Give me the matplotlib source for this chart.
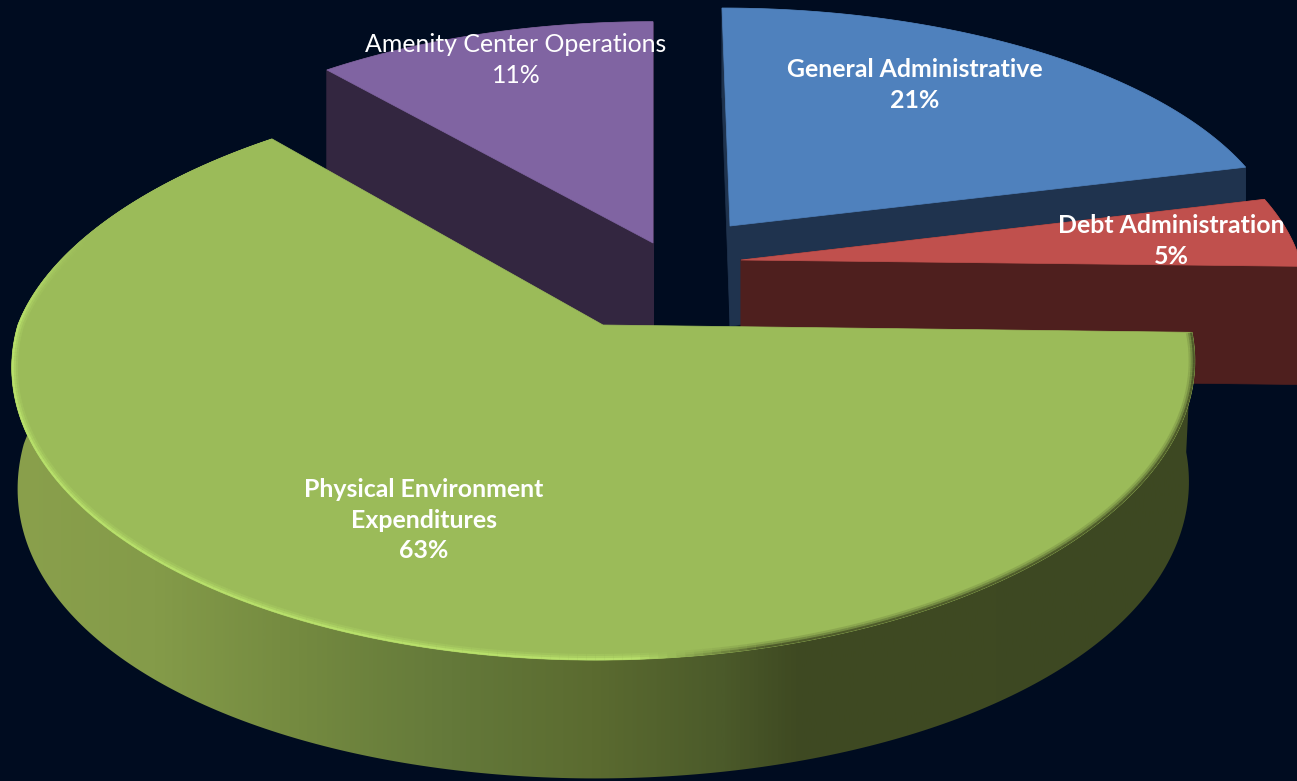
import numpy as np
import matplotlib.pyplot as plt
from matplotlib.patches import Polygon
from matplotlib.collections import LineCollection
from matplotlib.colors import LinearSegmentedColormap, to_rgb

# shares, clockwise from 12 o'clock (labels are the rounded values)
names = ["General Administrative", "Debt Administration", "Physical Environment\nExpenditures", "Amenity Center Operations"]
shares = [21.0, 4.4, 63.4, 11.2]
pct_labels = ["21%", "5%", "63%", "11%"]
top_colors = ["#4f81bd", "#c0504d", "#9bbb59", "#8064a2"]
wall_colors = ["#1f334e", "#4e1f1e", "#3d4822", "#332640"]

# apex of each slice on the screen (explosion), pixels
apex_x = [730, 741, 603, 653]
apex_y = [226, 260, 325, 243]
depths = [100, 116, 98, 116]

# perspective of the pie plane
VX = 653
HY = -1871
B = 2097
K = 0.116
A = 550

label_x = [915, 1171, 424, 516]
label_y = [85, 241, 520, 60]
label_bold = [True, True, True, False]

def project(ax0, ay0, theta, rx=1.0, rz=1.0, depth=0):
    # theta in radians, clockwise from top; returns screen x, y
    w0 = B / (ay0 - HY)
    ax_w = (ax0 - VX) * w0
    w = w0 + K * rz * np.cos(theta)
    x = VX + (ax_w + A * rx * np.sin(theta)) / w
    y = HY + (B + depth) / w
    return x, y

def green_radius(theta):
    c = np.cos(theta)
    r0 = np.where(np.sin(theta) < 0, 1.016, 1.02)
    rx = np.where(c < 0, r0, r0 - (r0 - 0.983) * c / 0.76)
    rz = np.where(c < 0, 1.09, 1.0)
    return rx, rz

def mix(c1, c2, f):
    a = np.array(to_rgb(c1))
    b = np.array(to_rgb(c2))
    return tuple(a * (1 - f) + b * f)

fig = plt.figure(figsize=(12.97, 7.81), dpi=100, facecolor="#000c20")
ax = fig.add_axes([0, 0, 1, 1])
ax.set_xlim(0, 1297)
ax.set_ylim(781, 0)
ax.axis("off")

edges = np.radians(np.concatenate([[0], np.cumsum(shares)]) * 3.6)

# far slices first, the big green one last
for i in [3, 0, 1, 2]:
    th = np.linspace(edges[i], edges[i + 1], 300)
    if i == 2:
        rx, rz = green_radius(th)
    elif i == 3:
        rx, rz = 0.99 * np.ones_like(th), np.ones_like(th)
    else:
        rx, rz = np.ones_like(th), np.ones_like(th)
    x, y = project(apex_x[i], apex_y[i], th, rx, rz)
    d = depths[i] + 16 * np.sin(th) ** 2 if i == 2 else depths[i]
    xb, yb = project(apex_x[i], apex_y[i], th, rx, rz, d)
    ax0b = apex_x[i]
    ay0b = HY + (B + depths[i]) / (B / (apex_y[i] - HY))

    if i == 2:
        # rim of the green slice has the left to right shading, bottom edge pulled in a bit
        xb = apex_x[i] + (xb - apex_x[i]) * 0.99
        vis = (np.cos(th) < 0.35) | (th < np.radians(200))
        band = np.column_stack([np.r_[x[vis], xb[vis][::-1]], np.r_[y[vis], yb[vis][::-1]]])
        wall = Polygon(band, closed=True, fc="none", ec="none")
        ax.add_patch(wall)
        cmap = LinearSegmentedColormap.from_list("rim", [
            (0.0, "#8aa04c"), (0.12, "#849b49"), (0.24, "#748a40"), (0.37, "#64793a"),
            (0.49, "#5b6b30"), (0.60, "#4b5a2a"), (0.66, "#3f4a22"), (1.0, "#3d4822")])
        grad = np.linspace(0, 1, 600).reshape(1, -1)
        im = ax.imshow(grad, cmap=cmap, extent=[10, 1200, 781, 0], aspect="auto", zorder=2)
        im.set_clip_path(wall)
        ax.set_xlim(0, 1297)
        ax.set_ylim(781, 0)
    else:
        # cut faces and outer band, flat colour
        ax.add_patch(Polygon([[apex_x[i], apex_y[i]], [x[0], y[0]], [xb[0], yb[0]], [ax0b, ay0b]], fc=wall_colors[i], ec=wall_colors[i], lw=0.5, zorder=2))
        ax.add_patch(Polygon([[apex_x[i], apex_y[i]], [x[-1], y[-1]], [xb[-1], yb[-1]], [ax0b, ay0b]], fc=wall_colors[i], ec=wall_colors[i], lw=0.5, zorder=2))
        band = np.column_stack([np.r_[x, xb[::-1]], np.r_[y, yb[::-1]]])
        ax.add_patch(Polygon(band, fc=wall_colors[i], ec=wall_colors[i], lw=0.5, zorder=2))

    top = np.column_stack([np.r_[apex_x[i], x], np.r_[apex_y[i], y]])
    face = Polygon(top, fc=top_colors[i], ec=top_colors[i], lw=0.5, zorder=3)
    ax.add_patch(face)

    if i == 2:
        # soft bevel along the front rim, opaque so the strokes do not build up, clipped to the face
        pts = np.column_stack([x, y]).reshape(-1, 1, 2)
        segs = np.concatenate([pts[:-1], pts[1:]], axis=1)
        for lw, strength in [(9, 0.2), (6, 0.5), (3, 0.95)]:
            cols = []
            for t, xm in zip(th[:-1], x[:-1]):
                fade = np.clip((0.35 - np.cos(t)) / 0.35, 0, 1)
                f = np.clip((xm - 640) / 130, 0, 1)
                edge = mix("#b9e26c", "#4a5628", f)
                cols.append(mix(top_colors[2], edge, strength * fade))
            lc = LineCollection(segs, colors=cols, linewidths=lw, zorder=4, capstyle="butt")
            ax.add_collection(lc)
            lc.set_clip_path(face)

# labels
for i in range(4):
    ax.text(label_x[i], label_y[i], names[i] + "\n" + pct_labels[i], color="white",
            ha="center", va="center", family="Lato", fontsize=17.9,
            fontweight="bold" if label_bold[i] else "normal", linespacing=1.4, zorder=6)

fig.savefig("out.png", dpi=100, facecolor=fig.get_facecolor())
